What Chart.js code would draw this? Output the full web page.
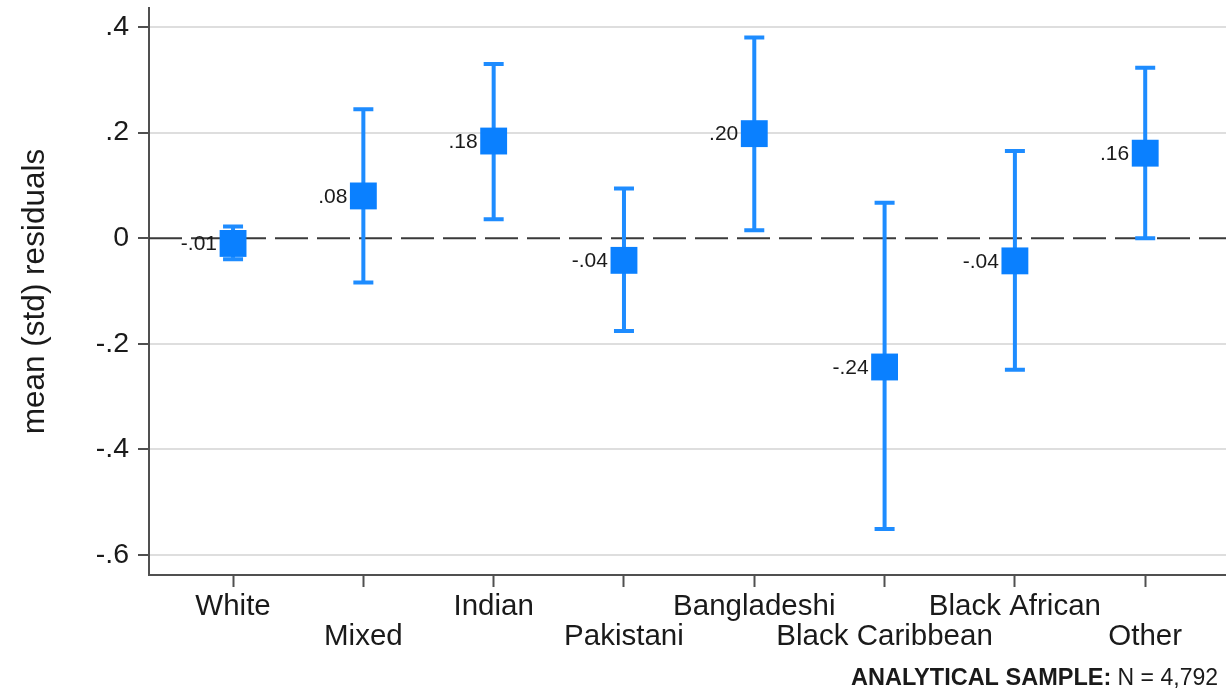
<!DOCTYPE html>
<html><head><meta charset="utf-8">
<script src="https://cdn.jsdelivr.net/npm/chart.js@4"></script>
<style>html,body{margin:0;padding:0;background:#fff}</style>
</head><body>
<canvas id="c" width="1226" height="690"></canvas>
<script>
const categories = ["White","Mixed","Indian","Pakistani","Bangladeshi","Black Caribbean","Black African","Other"];
const means  = [-0.010, 0.080, 0.184, -0.042, 0.198, -0.244, -0.043, 0.161];
const ciLow  = [-0.040, -0.084, 0.036, -0.176, 0.015, -0.551, -0.249, 0.000];
const ciHigh = [0.022, 0.244, 0.330, 0.094, 0.380, 0.067, 0.165, 0.323];
const valueLabels = ["-.01",".08",".18","-.04",".20","-.24","-.04",".16"];
const yTickValues = [-0.6,-0.4,-0.2,0,0.2,0.4];
const yTickLabels = ["-.6","-.4","-.2","0",".2",".4"];
const yTitle = "mean (std) residuals";
const footnoteBold = "ANALYTICAL SAMPLE:";
const footnoteText = " N = 4,792";

const FONT = '"Liberation Sans", Arial, Helvetica, sans-serif';
const TXT = '#1a1a1a';

const extras = {
  id: 'extras',
  beforeDatasetsDraw(chart) {
    const {ctx, chartArea: a, scales: {x, y}} = chart;
    ctx.save();
    const y0 = y.getPixelForValue(0);
    ctx.strokeStyle = '#3a3a3a'; ctx.lineWidth = 2; ctx.setLineDash([33, 9]);
    ctx.beginPath(); ctx.moveTo(a.left, y0); ctx.lineTo(a.right, y0); ctx.stroke();
    ctx.setLineDash([]);
    ctx.strokeStyle = '#1e8cff'; ctx.lineWidth = 4; ctx.lineCap = 'butt';
    categories.forEach((c, i) => {
      const px = x.getPixelForValue(i);
      const lo = y.getPixelForValue(ciLow[i]);
      const hi = y.getPixelForValue(ciHigh[i]);
      ctx.beginPath();
      ctx.moveTo(px, lo); ctx.lineTo(px, hi);
      ctx.moveTo(px - 10, lo); ctx.lineTo(px + 10, lo);
      ctx.moveTo(px - 10, hi); ctx.lineTo(px + 10, hi);
      ctx.stroke();
    });
    ctx.restore();
  },
  afterDatasetsDraw(chart) {
    const {ctx} = chart;
    const meta = chart.getDatasetMeta(0);
    ctx.save();
    ctx.font = '21px ' + FONT; ctx.fillStyle = TXT;
    ctx.textAlign = 'right'; ctx.textBaseline = 'middle';
    meta.data.forEach((pt, i) => {
      ctx.fillText(valueLabels[i], pt.x - 16, pt.y + 1);
    });
    ctx.restore();
  },
  afterDraw(chart) {
    const {ctx} = chart;
    ctx.save();
    ctx.fillStyle = TXT; ctx.textBaseline = 'alphabetic'; ctx.textAlign = 'left';
    ctx.font = '23px ' + FONT;
    const wN = ctx.measureText(footnoteText).width;
    ctx.font = 'bold 23.5px ' + FONT;
    const wB = ctx.measureText(footnoteBold).width;
    const right = 1218, base = 685;
    ctx.fillText(footnoteBold, right - wN - wB, base);
    ctx.font = '23px ' + FONT;
    ctx.fillText(footnoteText, right - wN, base);
    ctx.restore();
  }
};

new Chart(document.getElementById('c'), {
  type: 'scatter',
  data: {
    datasets: [{
      data: means.map((m, i) => ({x: i, y: m})),
      pointStyle: 'rect',
      pointRadius: 19,
      pointHoverRadius: 19,
      backgroundColor: '#0a80ff',
      borderColor: '#0a80ff',
      borderWidth: 0
    }]
  },
  options: {
    responsive: false,
    animation: false,
    devicePixelRatio: 1,
    layout: {autoPadding: false, padding: {top: 8, left: 0, right: 0, bottom: 0}},
    plugins: {legend: {display: false}, tooltip: {enabled: false}},
    scales: {
      x: {
        type: 'linear', min: -0.645, max: 7.62,
        afterBuildTicks: (s) => { s.ticks = categories.map((c, i) => ({value: i})); },
        afterFit: (s) => { s.height = 115; s.paddingLeft = 0; s.paddingRight = 0; s.paddingTop = 0; s.paddingBottom = 0; },
        grid: {drawOnChartArea: false, drawTicks: true, tickLength: 12, tickColor: '#505050', tickWidth: 2},
        border: {display: true, color: '#505050', width: 2},
        ticks: {
          autoSkip: false, maxRotation: 0, padding: 5, color: TXT,
          font: {family: FONT, size: 29.5, lineHeight: 1.02},
          callback: (v) => { const i = Math.round(v); return i % 2 === 0 ? [categories[i]] : ['', categories[i]]; }
        }
      },
      y: {
        type: 'linear', min: -0.638, max: 0.436,
        afterBuildTicks: (s) => { s.ticks = yTickValues.map(v => ({value: v})); },
        afterFit: (s) => { s.width = 149; s.paddingTop = 0; s.paddingBottom = 0; s.paddingLeft = 0; s.paddingRight = 0; },
        grid: {
          color: (c) => (c.tick && c.tick.value === 0) ? 'rgba(0,0,0,0)' : '#dedede',
          lineWidth: 2, drawTicks: true, tickLength: 11, tickColor: '#505050', tickWidth: 2
        },
        border: {display: true, color: '#505050', width: 2},
        ticks: {
          padding: 9, color: TXT,
          font: {family: FONT, size: 28.5},
          callback: (v) => { const k = yTickValues.findIndex(t => Math.abs(t - v) < 1e-9); return k >= 0 ? yTickLabels[k] : ''; }
        },
        title: {display: true, text: yTitle, color: TXT, font: {family: FONT, size: 31.5, lineHeight: 1.1}, padding: {top: 18, bottom: 0}}
      }
    }
  },
  plugins: [extras]
});
</script>
</body></html>
